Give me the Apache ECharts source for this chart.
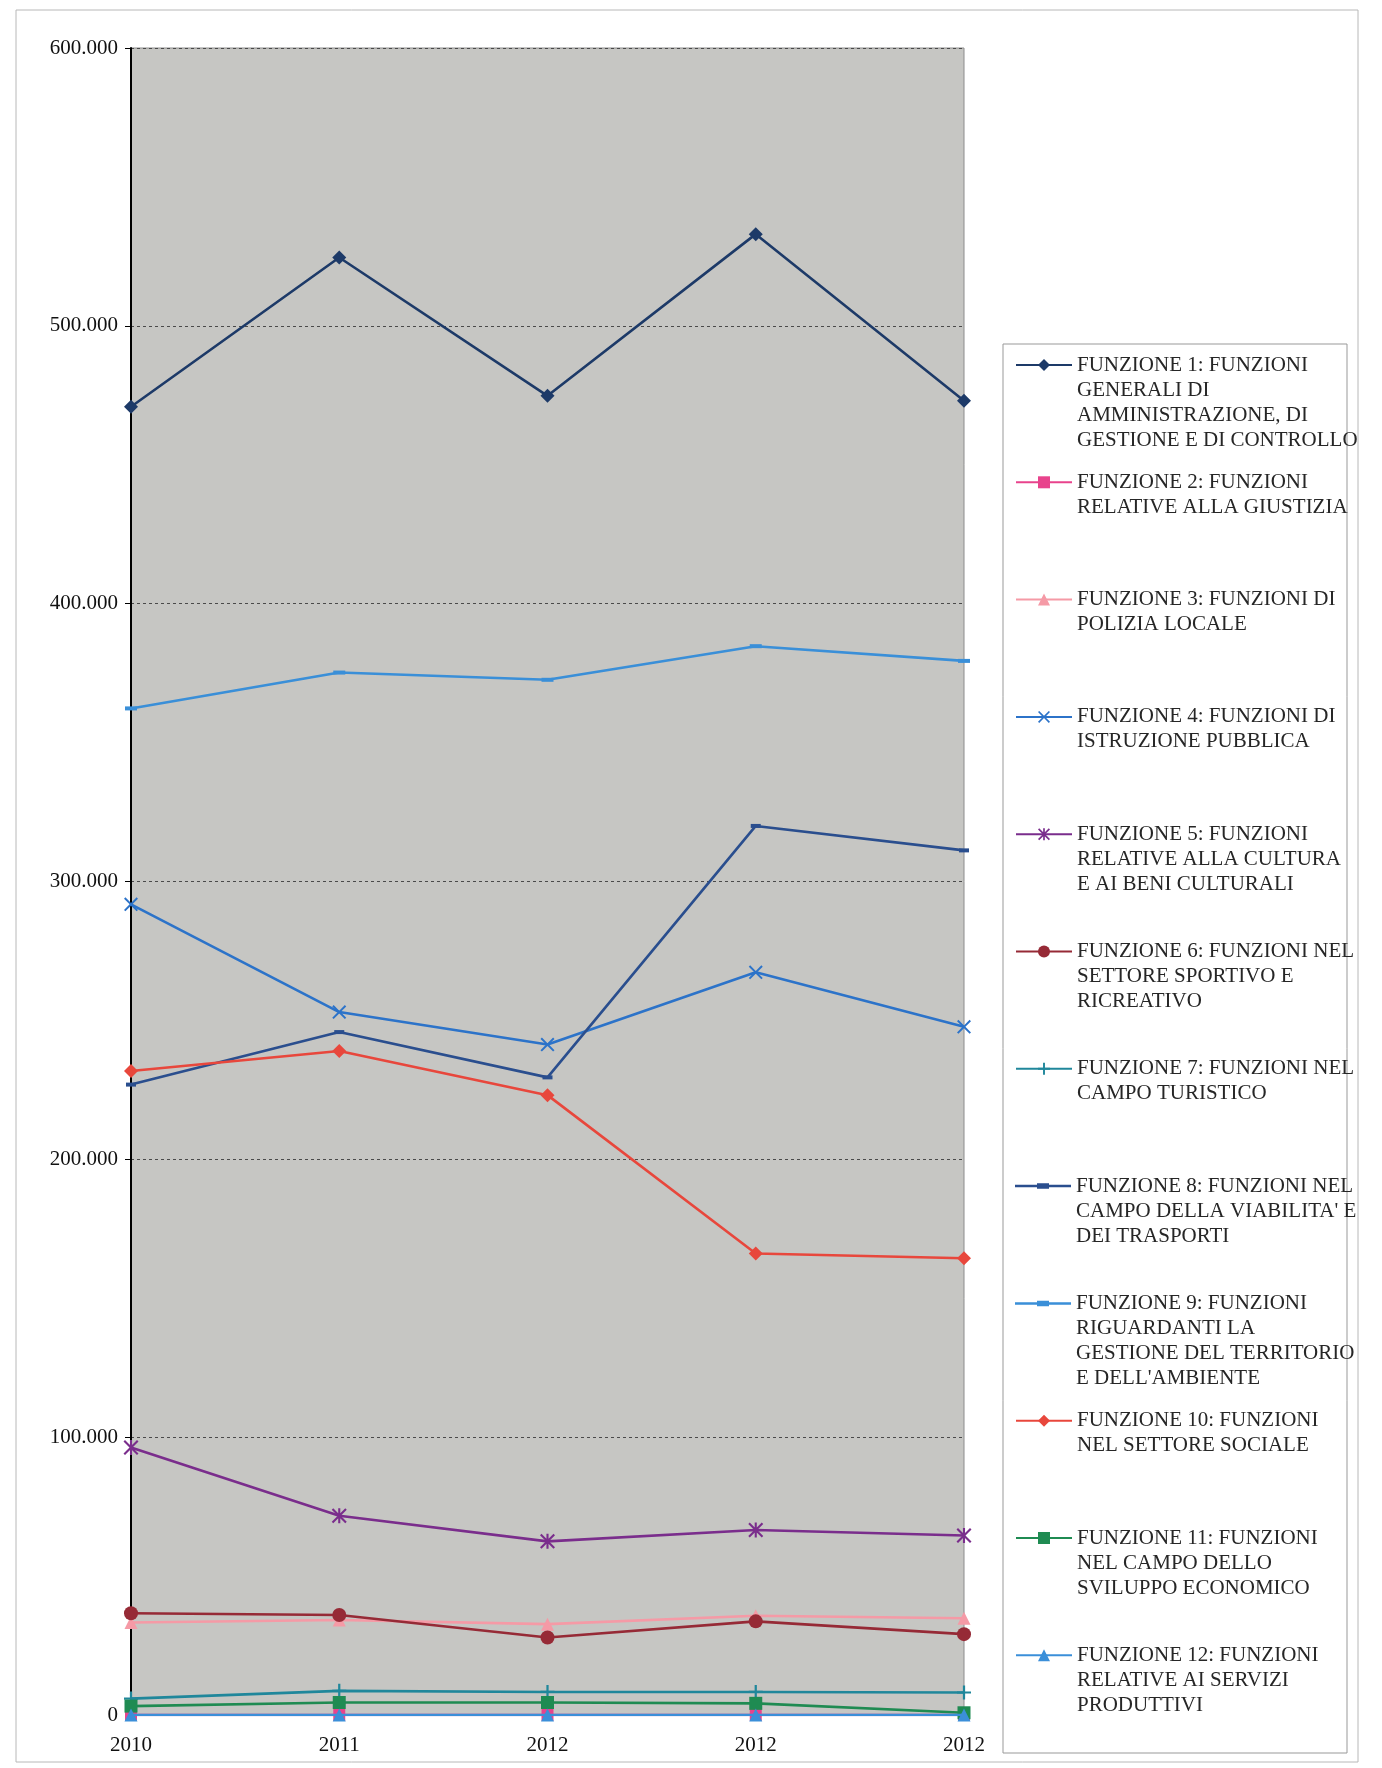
<!DOCTYPE html>
<html>
<head>
<meta charset="utf-8">
<title>Spese per funzione</title>
<script src="https://cdn.jsdelivr.net/npm/echarts@6/dist/echarts.min.js"></script>
<style>
  html, body { margin: 0; padding: 0; background: #fff; }
  #chart { width: 1382px; height: 1768px; }
</style>
</head>
<body>
<div id="chart"></div>
<script>
// Category labels along the x axis
const years = ['2010', '2011', '2012', '2012', '2012'];

// Y axis range and step
const yMin = 0;
const yMax = 600000;
const yStep = 100000;

// Series values (euro), one array per function
const f1 = [470900, 524600, 474800, 533000, 473000];
const f2 = [0, 0, 0, 0, 0];
const f3 = [33300, 34200, 32700, 35700, 34800];
const f4 = [291800, 253000, 241300, 267300, 247700];
const f5 = [96300, 71700, 62500, 66600, 64600];
const f6 = [36600, 36000, 27900, 33700, 29100];
const f7 = [5900, 8700, 8300, 8300, 8100];
const f8 = [226900, 245800, 229500, 320000, 311200];
const f9 = [362300, 375200, 372600, 384700, 379400];
const f10 = [231800, 239000, 223100, 166100, 164400];
const f11 = [3200, 4500, 4500, 4200, 800];
const f12 = [0, 0, 0, 0, 0];

// Legend text, one line per entry
const names = [
  ['FUNZIONE 1: FUNZIONI', 'GENERALI DI', 'AMMINISTRAZIONE, DI', 'GESTIONE E DI CONTROLLO'],
  ['FUNZIONE 2: FUNZIONI', 'RELATIVE ALLA GIUSTIZIA'],
  ['FUNZIONE 3: FUNZIONI DI', 'POLIZIA LOCALE'],
  ['FUNZIONE 4: FUNZIONI DI', 'ISTRUZIONE PUBBLICA'],
  ['FUNZIONE 5: FUNZIONI', 'RELATIVE ALLA CULTURA', 'E AI BENI CULTURALI'],
  ['FUNZIONE 6: FUNZIONI NEL', 'SETTORE SPORTIVO E', 'RICREATIVO'],
  ['FUNZIONE 7: FUNZIONI NEL', 'CAMPO TURISTICO'],
  ['FUNZIONE 8: FUNZIONI NEL', "CAMPO DELLA VIABILITA' E", 'DEI TRASPORTI'],
  ['FUNZIONE 9: FUNZIONI', 'RIGUARDANTI LA', 'GESTIONE DEL TERRITORIO', "E DELL'AMBIENTE"],
  ['FUNZIONE 10: FUNZIONI', 'NEL SETTORE SOCIALE'],
  ['FUNZIONE 11: FUNZIONI', 'NEL CAMPO DELLO', 'SVILUPPO ECONOMICO'],
  ['FUNZIONE 12: FUNZIONI', 'RELATIVE AI SERVIZI', 'PRODUTTIVI']
];

const values = [f1, f2, f3, f4, f5, f6, f7, f8, f9, f10, f11, f12];

// Marker shapes
const X_PATH = 'path://M0,1L1,0L5,4L9,0L10,1L6,5L10,9L9,10L5,6L1,10L0,9L4,5Z';
const STAR_PATH = 'path://M0,1L1,0L5,4L9,0L10,1L6,5L10,9L9,10L5,6L1,10L0,9L4,5Z M4.3,0L5.7,0L5.7,10L4.3,10Z';
const PLUS_PATH = 'path://M4.2,0L5.8,0L5.8,4.2L10,4.2L10,5.8L5.8,5.8L5.8,10L4.2,10L4.2,5.8L0,5.8L0,4.2L4.2,4.2Z';
const DASH_PATH = 'path://M0,0L10,0L10,3.5L0,3.5Z';
// Legend icon for the dash-marker series: full-width line with a thicker dash in the middle
const DASH_ICON = 'path://M0,1.5L56,1.5L56,4L0,4Z M22,0L34,0L34,5.5L22,5.5Z';

const styles = [
  { color: '#1d3a68', symbol: 'diamond', size: 14 },
  { color: '#e8438c', symbol: 'rect', size: 12 },
  { color: '#f59aa6', symbol: 'triangle', size: 13 },
  { color: '#2c73c9', symbol: X_PATH, size: 14 },
  { color: '#7a2d8c', symbol: STAR_PATH, size: 15 },
  { color: '#962a36', symbol: 'circle', size: 14 },
  { color: '#20879b', symbol: PLUS_PATH, size: 14 },
  { color: '#2a4e8e', symbol: DASH_PATH, size: [10, 4], icon: DASH_ICON },
  { color: '#3a8fd8', symbol: DASH_PATH, size: [12, 4], icon: DASH_ICON },
  { color: '#e8473c', symbol: 'diamond', size: 14 },
  { color: '#1f8b52', symbol: 'rect', size: 13 },
  { color: '#3b8fd9', symbol: 'triangle', size: 13 }
];

const FONT = '"Liberation Serif", "Times New Roman", serif';
const LEGEND_LH = 25;

const seriesName = (lines) => lines.join(' ');

function thousands(v) {
  return String(v).replace(/\B(?=(\d{3})+(?!\d))/g, '.');
}

const series = values.map((vals, i) => ({
  name: seriesName(names[i]),
  type: 'line',
  data: vals,
  symbol: styles[i].symbol,
  symbolSize: styles[i].size,
  showAllSymbol: true,
  lineStyle: { color: styles[i].color, width: 2.6 },
  itemStyle: { color: styles[i].color },
  emphasis: { disabled: true },
  z: 2 + i
}));

// One legend per entry so every entry starts at the same pitch;
// leading blank lines keep the icon level with the first text line.
const legends = names.map((lines, i) => {
  const n = lines.length;
  const firstLineY = 365 + i * 117.3;
  const blockH = (2 * n - 1) * LEGEND_LH;
  const item = { name: seriesName(lines) };
  if (styles[i].icon) item.icon = styles[i].icon;
  return {
    data: [item],
    left: 1015,
    top: firstLineY - blockH / 2,
    orient: 'vertical',
    padding: 0,
    itemWidth: 56,
    itemHeight: 15,
    formatter: () => '\n'.repeat(n - 1) + lines.join('\n'),
    textStyle: {
      fontFamily: FONT,
      fontSize: 21,
      lineHeight: LEGEND_LH,
      color: '#262626'
    }
  };
});

const chart = echarts.init(document.getElementById('chart'), null, { renderer: 'canvas' });

chart.setOption({
  backgroundColor: '#ffffff',
  animation: false,
  grid: {
    left: 131,
    right: 418,
    top: 48,
    bottom: 53,
    show: true,
    backgroundColor: '#c6c6c3',
    borderColor: '#8c8c8c',
    borderWidth: 1
  },
  xAxis: {
    type: 'category',
    data: years,
    boundaryGap: false,
    axisLine: { show: true, lineStyle: { color: '#555', width: 1 } },
    axisTick: { show: false },
    axisLabel: {
      margin: 20,
      fontFamily: FONT,
      fontSize: 21,
      color: '#111'
    },
    splitLine: { show: false }
  },
  yAxis: {
    type: 'value',
    min: yMin,
    max: yMax,
    interval: yStep,
    axisLine: { show: true, lineStyle: { color: '#000', width: 2 } },
    axisTick: { show: true, length: 6, lineStyle: { color: '#000', width: 1 } },
    axisLabel: {
      margin: 13,
      fontFamily: FONT,
      fontSize: 21,
      color: '#111',
      formatter: (v) => thousands(v)
    },
    splitLine: {
      show: true,
      lineStyle: { color: '#4a4a4a', width: 1, type: [3, 3] }
    }
  },
  legend: legends,
  graphic: [
    {
      type: 'rect',
      z: -1,
      shape: { x: 16, y: 10, width: 1342, height: 1752 },
      style: { fill: 'none', stroke: '#b8b8b8', lineWidth: 1 }
    },
    {
      type: 'rect',
      z: -1,
      shape: { x: 1003, y: 344, width: 344, height: 1409 },
      style: { fill: 'none', stroke: '#999999', lineWidth: 1 }
    }
  ],
  series: series
});
</script>
</body>
</html>
